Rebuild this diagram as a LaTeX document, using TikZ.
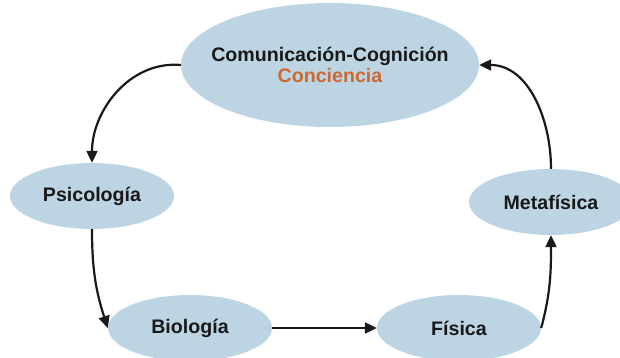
\documentclass[tikz,border=0pt]{standalone}
\usepackage{fontspec}
\setmainfont{Liberation Sans}
\usepackage{tikz}
\usetikzlibrary{shapes.geometric}
\usetikzlibrary{arrows.meta}
\definecolor{blueish}{RGB}{189,213,227}
\definecolor{orangeish}{RGB}{204,104,52}
\tikzstyle{concept}=[ellipse, fill=blueish, inner sep=0pt, text=black!90, font=\bfseries\fontsize{19.6}{21}\selectfont]
\tikzstyle{big}=[concept, minimum width=298pt, minimum height=124pt]
\tikzstyle{small}=[concept, minimum width=164pt, minimum height=66pt]
\tikzstyle{inside}=[align=center, text=black!90, font=\bfseries\fontsize{19.6}{21}\selectfont]
\tikzstyle{edge}=[-{Triangle[length=12pt, width=11pt]}, line width=2.2pt, black!90]

\begin{document}
\begin{tikzpicture}[x=1pt, y=1pt]
	\useasboundingbox (0,0) rectangle (620,-358);
	\draw (330,-65) node[big, label={[inside]center:Comunicación-Cognición\\{\color{orangeish}Conciencia}}] (cc) {};
	\draw (92,-196) node[small] (psi) {Psicología};
	\draw (190,-328) node[small] (bio) {Biología};
	\draw (459,-328) node[small] (fis) {Física};
	\draw (551,-202) node[small] (meta) {Metafísica};
	\draw[edge] (cc.west) to[out=175, in=90] (psi.north);
	\draw[edge] (psi.south) to[out=-90, in=108] (bio.west);
	\draw[edge] (bio.east) -- (fis.west);
	\draw[edge] (fis.east) to[out=75, in=-90] (meta.south);
	\draw[edge] (meta.north) to[out=90, in=0] (cc.east);
\end{tikzpicture}
\end{document}
